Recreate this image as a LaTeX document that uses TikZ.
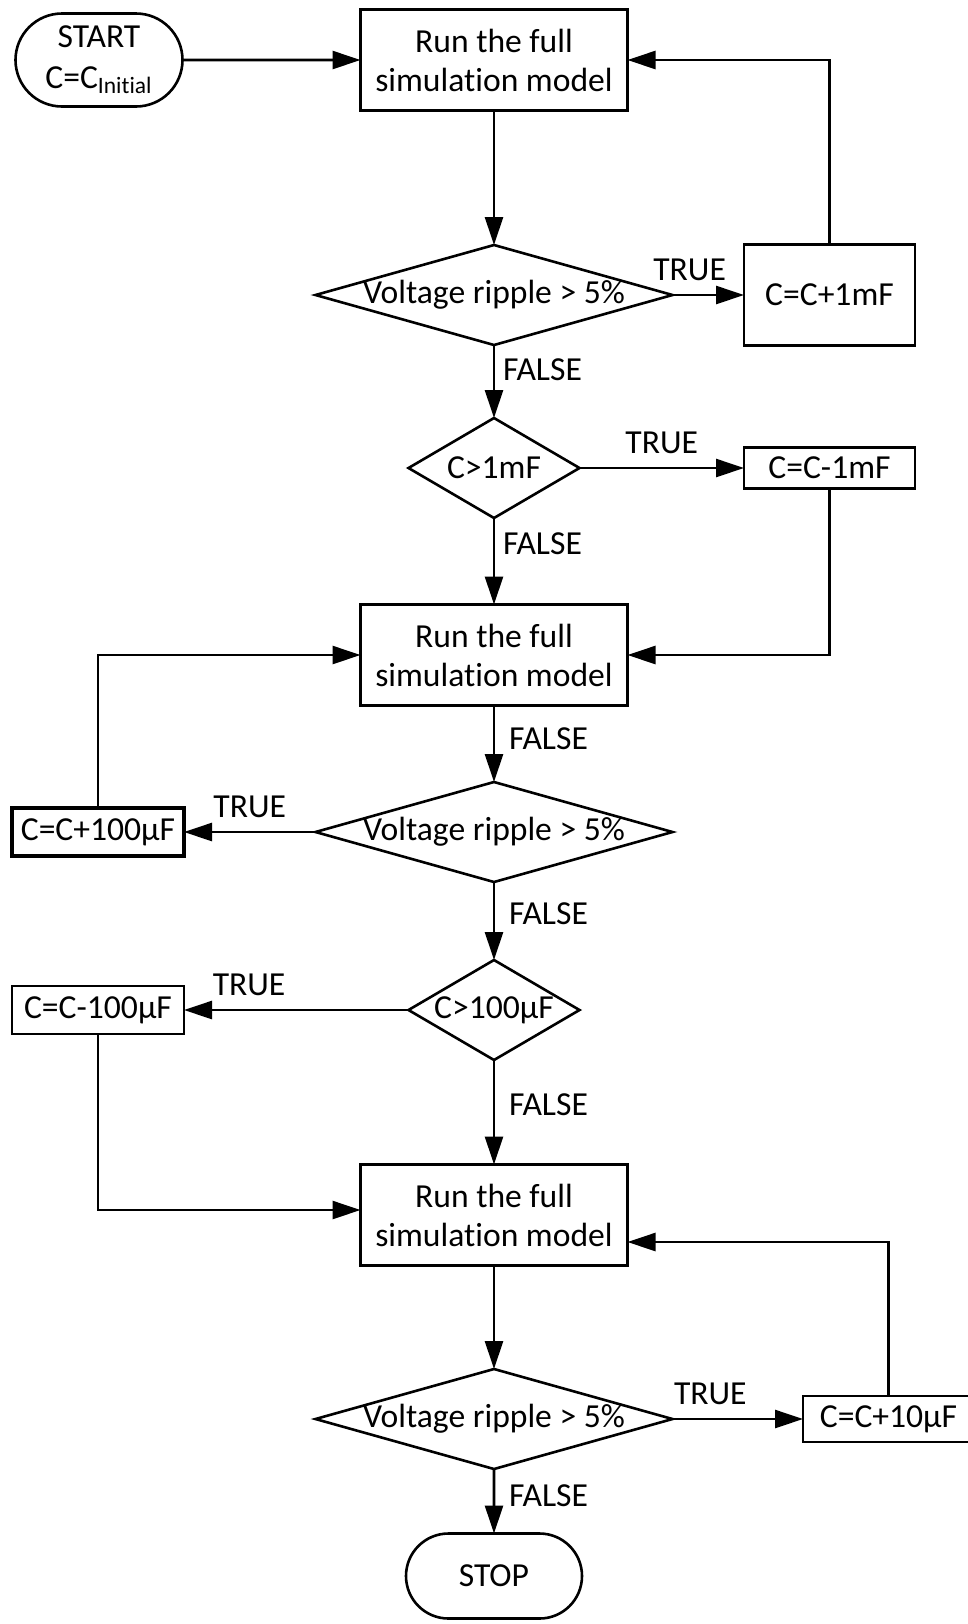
\documentclass[tikz,border=0pt]{standalone}
\usepackage{fontspec}
\setmainfont{Carlito}[Ligatures=NoCommon]
\usetikzlibrary{positioning, arrows.meta, shapes.geometric, shapes.misc}

\begin{document}
\begin{tikzpicture}[font=\fontsize{16.8pt}{19.5pt}\selectfont,
  every node/.style={line width=1.3pt, outer sep=0pt},
  terminalnode/.style={rounded rectangle, draw=black, align=center, inner sep=0pt},
  processnode/.style={rectangle, draw=black, align=center, minimum width=133.5pt, minimum height=50.5pt, inner sep=0pt},
  decisionnode/.style={diamond, draw=black, minimum width=178.5pt, minimum height=50pt, inner sep=0pt},
  smalldecision/.style={decisionnode, minimum width=85.5pt},
  updatenode/.style={rectangle, draw=black, minimum width=85.5pt, inner sep=1pt},
  answer/.style={inner sep=0pt},
  arrowline/.style={-{Triangle[length=14pt, width=9pt]}, line width=1.3pt}]
\useasboundingbox (0,0) rectangle (484pt,-812pt);

% main column
\node[processnode]   (run1)      at (247pt,-30pt) {Run the full\\simulation model};
\node[terminalnode, minimum width=83.5pt, minimum height=46.5pt] (start) [left=89pt of run1] {START\\[1pt]C=C\textsubscript{Initial}};
\node[decisionnode]  (ripple1)   [below=67.25pt of run1] {\makebox[0pt]{Voltage ripple > 5\%}};
\node[smalldecision] (check1m)   [below=36.5pt of ripple1] {\makebox[0pt]{C>1mF}};
\node[processnode]   (run2)      [below=43.25pt of check1m] {Run the full\\simulation model};
\node[decisionnode]  (ripple2)   [below=38.25pt of run2] {\makebox[0pt]{Voltage ripple > 5\%}};
\node[smalldecision] (check100u) [below=39pt of ripple2] {\makebox[0pt]{C>100µF}};
\node[processnode]   (run3)      [below=52.25pt of check100u] {Run the full\\simulation model};
\node[decisionnode]  (ripple3)   [below=51.75pt of run3] {\makebox[0pt]{Voltage ripple > 5\%}};
\node[terminalnode, minimum width=88pt, minimum height=42.5pt] (stop) [below=32.25pt of ripple3] {STOP};

% side boxes
\node[updatenode, minimum height=50.5pt] (plus1m)    [right=35.75pt of ripple1] {C=C+1mF};
\node[updatenode, minimum height=20.5pt] (minus1m)   [right=82.25pt of check1m] {C=C-1mF};
\node[updatenode, minimum width=86pt, minimum height=24pt, line width=2.2pt] (plus100u) [left=65.75pt of ripple2] {C=C+100µF};
\node[updatenode, minimum width=86pt, minimum height=24pt] (minus100u) [left=112.25pt of check100u] {C=C-100µF};
\node[updatenode, minimum height=23pt] (plus10u)   [right=65.25pt of ripple3] {C=C+10µF};

% connectors
\draw[arrowline] (start) -- (run1);
\draw[arrowline] (run1) -- (ripple1);
\draw[arrowline] (ripple1) -- node[answer, above=7pt, pos=0.24] {TRUE} (plus1m);
\draw[arrowline] (plus1m.north) |- (run1.east);
\draw[arrowline] (ripple1) -- node[answer, right=4.5pt, pos=0.34] {FALSE} (check1m);
\draw[arrowline] (check1m) -- node[answer, above=7pt, pos=0.5] {TRUE} (minus1m);
\draw[arrowline] (minus1m.south) |- (run2.east);
\draw[arrowline] (check1m) -- node[answer, right=4.5pt, pos=0.3] {FALSE} (run2);
\draw[arrowline] (run2) -- node[answer, right=7.5pt, pos=0.43] {FALSE} (ripple2);
\draw[arrowline] (ripple2) -- node[answer, above=7pt, pos=0.5] {TRUE} (plus100u);
\draw[arrowline] (plus100u.north) |- (run2.west);
\draw[arrowline] (ripple2) -- node[answer, right=7.5pt, pos=0.41] {FALSE} (check100u);
\draw[arrowline] (check100u) -- node[answer, above=7pt, pos=0.71] {TRUE} (minus100u);
\draw[arrowline] (minus100u.south) |- ([yshift=2.5pt]run3.west);
\draw[arrowline] (check100u) -- node[answer, right=7.5pt, pos=0.43] {FALSE} (run3);
\draw[arrowline] (run3) -- (ripple3);
\draw[arrowline] (ripple3) -- node[answer, above=7pt, pos=0.29] {TRUE} (plus10u);
\draw[arrowline] (plus10u.north) |- ([yshift=-13.5pt]run3.east);
\draw[arrowline] (ripple3) -- node[answer, right=7.5pt, pos=0.42] {FALSE} (stop);
\end{tikzpicture}
\end{document}
